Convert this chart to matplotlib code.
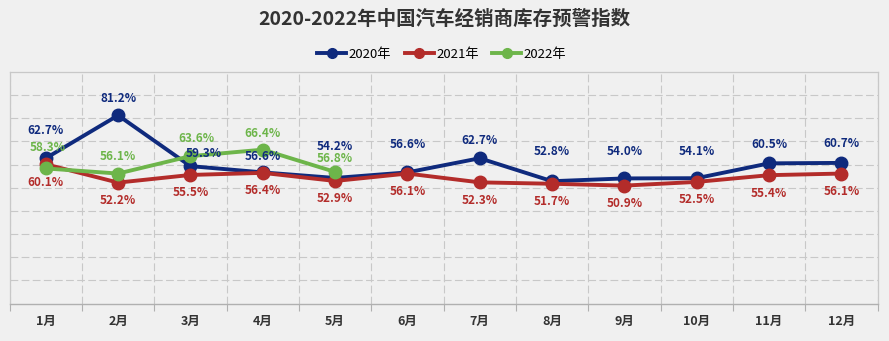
import numpy as np
import matplotlib
matplotlib.use('Agg')
from matplotlib import pyplot as plt
from matplotlib.lines import Line2D

plt.rcParams['font.family'] = ['Noto Sans CJK SC', 'DejaVu Sans']

# data
months = ['1月', '2月', '3月', '4月', '5月', '6月', '7月', '8月', '9月', '10月', '11月', '12月']
idx_2020 = [62.7, 81.2, 59.3, 56.6, 54.2, 56.6, 62.7, 52.8, 54.0, 54.1, 60.5, 60.7]
idx_2021 = [60.1, 52.2, 55.5, 56.4, 52.9, 56.1, 52.3, 51.7, 50.9, 52.5, 55.4, 56.1]
idx_2022 = [58.3, 56.1, 63.6, 66.4, 56.8]
series_names = ['2020年', '2021年', '2022年']

# label placement (pixels from point)
dy_2020 = [28, 17, 13, 16, 31, 28, 18, 30, 27, 27, 19, 19]
dx_2020 = [0, 0, 13, 0, 0, 0, 0, 0, 0, 0, 0, 0]
dy_2022 = [21, 17, 18, 16, 13]
dx_2022 = [2, 0, 6, 0, 0]

c_blue = '#0f2a7d'
c_red = '#b32c2a'
c_green = '#6db54a'
bg = '#f0f0f0'

fig = plt.figure(figsize=(8.89, 3.41), dpi=100, facecolor=bg)
ax = fig.add_axes([0.0108, 0.1094, 0.9763, 0.6803])
ax.set_facecolor('none')

x = np.arange(len(months))
series = [(idx_2020, c_blue), (idx_2021, c_red), (idx_2022, c_green)]
for vals, col in series:
    xx = x[:len(vals)]
    ax.plot(xx, vals, color=col, lw=2.8, marker='o', ms=9, zorder=3)

lab = dict(ha='center', va='center', fontsize=8.5, fontweight='black', textcoords='offset pixels', zorder=5)
for i, v in enumerate(idx_2020):
    ax.annotate(f'{v:.1f}%', (x[i], v), xytext=(dx_2020[i], dy_2020[i]), color=c_blue, **lab)
for i, v in enumerate(idx_2021):
    ax.annotate(f'{v:.1f}%', (x[i], v), xytext=(0, -18), color=c_red, **lab)
for i, v in enumerate(idx_2022):
    ax.annotate(f'{v:.1f}%', (x[i], v), xytext=(dx_2022[i], dy_2022[i]), color=c_green, **lab)

ax.set_xlim(-0.5, 11.5)
ax.set_ylim(0, 100)
ax.set_yticks(np.arange(10, 100, 10))
ax.set_yticklabels([])
ax.tick_params(axis='y', length=0)
ax.set_xticks(x)
ax.set_xticklabels(months, fontsize=9, fontweight='bold', color='#333333')
ax.set_xticks(np.arange(-0.5, 12, 1), minor=True)
ax.tick_params(axis='x', which='major', length=0, pad=8)
ax.tick_params(axis='x', which='minor', length=5, color='#b0b0b0', width=0.8)

ax.grid(axis='y', which='major', color='#c8c8c8', ls=(0, (7, 3)), lw=0.8)
ax.grid(axis='x', which='minor', color='#c8c8c8', ls=(0, (7, 3)), lw=0.8)
for s in ['top', 'left', 'right']:
    ax.spines[s].set_color('#c8c8c8')
    ax.spines[s].set_linewidth(0.9)
ax.spines['bottom'].set_color('#b0b0b0')
ax.spines['bottom'].set_linewidth(1.0)

fig.text(0.5, 0.945, '2020-2022年中国汽车经销商库存预警指数', ha='center', va='center',
         fontsize=14, fontweight='bold', color='#333333')

handles = [Line2D([], [], color=c, lw=2.8, marker='o', ms=7) for c in (c_blue, c_red, c_green)]
fig.legend(handles, series_names, loc='center', bbox_to_anchor=(0.497, 0.84), ncol=3, frameon=False,
           handlelength=2.2, columnspacing=1.0, handletextpad=0.2,
           prop={'size': 9.5})

fig.savefig('out.png', dpi=100, facecolor=bg)
